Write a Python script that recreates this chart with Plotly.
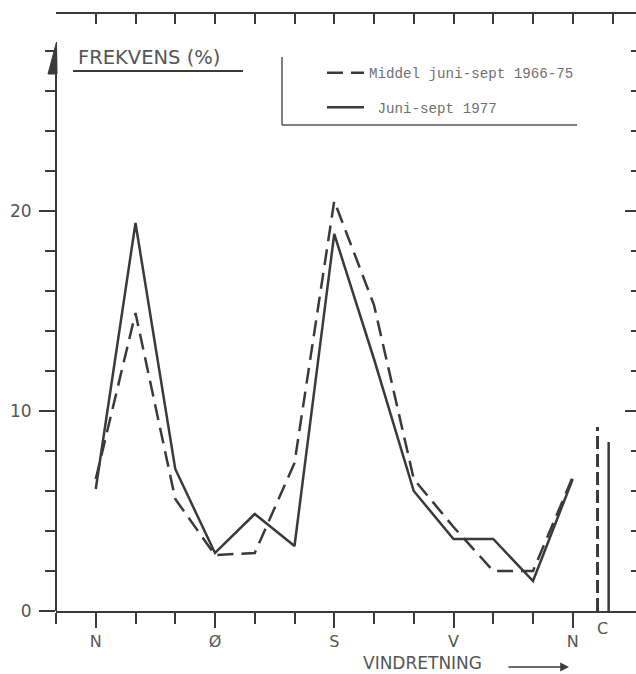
import plotly.graph_objects as go

# ---------------- data ----------------
DIRECTIONS = [0, 30, 60, 90, 120, 150, 180, 210, 240, 270, 300, 330, 360]
MEAN_1966_75 = [6.6, 14.9, 5.6, 2.8, 2.9, 7.4, 20.5, 15.3, 6.6, 4.2, 2.0, 2.0, 6.7]
JUNE_SEPT_1977 = [6.1, 19.4, 7.1, 2.9, 4.85, 3.25, 18.85, 12.6, 6.0, 3.6, 3.6, 1.5, 6.6]
CALM_LABEL = "C"
CALM_MEAN = 9.2
CALM_1977 = 8.45
MAJOR_TICKS = [0, 90, 180, 270, 360]
MAJOR_LABELS = ["N", "Ø", "S", "V", "N"]
Y_MAJOR = [0, 10, 20]
SERIES_NAMES = ["Middel juni-sept 1966-75", "\u00a0Juni-sept 1977"]

# ---------------- layout constants ----------------
W, H = 636, 674
L, R, T, B = 56, 0, 14, 63
PW, PH = W - L - R, H - T - B
X_RANGE = [-30, -30 + PW / 1.325]
Y_RANGE = [0, PH / 20.0]
CALM_X = 382.5
INK = "#3a3a3a"
TXT = "#555555"


def xp(px):
    return (px - L) / PW


def yp(py):
    return (H - B - py) / PH


fig = go.Figure()

fig.add_trace(go.Scatter(
    x=DIRECTIONS, y=MEAN_1966_75, mode="lines", name=SERIES_NAMES[0],
    legendgroup="a", line=dict(color=INK, width=2.5, dash="16px,8px"),
    hoverinfo="skip"))
fig.add_trace(go.Scatter(
    x=DIRECTIONS, y=JUNE_SEPT_1977, mode="lines", name=SERIES_NAMES[1],
    legendgroup="b", line=dict(color=INK, width=2.5), hoverinfo="skip"))

# calm bars
fig.add_trace(go.Scatter(
    x=[CALM_X - 3.8, CALM_X - 3.8], y=[0, CALM_MEAN], mode="lines",
    showlegend=False, line=dict(color=INK, width=3, dash="13px,5px"),
    hoverinfo="skip"))
fig.add_trace(go.Scatter(
    x=[CALM_X + 4.6, CALM_X + 4.6], y=[0, CALM_1977], mode="lines",
    showlegend=False, line=dict(color=INK, width=2.5), hoverinfo="skip"))

# helper trace for the top/right axes
fig.add_trace(go.Scatter(x=[None], y=[None], xaxis="x2", yaxis="y2",
                         showlegend=False, hoverinfo="skip"))

tick_minor_x = list(range(-30, 361, 30))

fig.update_layout(
    width=W, height=H, autosize=False,
    margin=dict(l=L, r=R, t=T, b=B, pad=0),
    paper_bgcolor="white", plot_bgcolor="white",
    font=dict(family="DejaVu Sans", color=TXT, size=16),
    showlegend=True,
    legend=dict(
        x=xp(322), y=yp(57), xanchor="left", yanchor="top",
        font=dict(family="Liberation Mono", size=14.2, color="#707070"),
        bgcolor="rgba(0,0,0,0)", borderwidth=0, tracegroupgap=13,
        itemwidth=37),
    xaxis=dict(
        range=X_RANGE, showgrid=False, zeroline=False,
        showline=True, linecolor=INK, linewidth=2,
        ticks="outside", tickvals=MAJOR_TICKS, ticktext=MAJOR_LABELS,
        ticklen=15, tickwidth=2, tickcolor=INK,
        tickfont=dict(size=16, color=TXT),
        minor=dict(tickvals=tick_minor_x, ticks="outside", ticklen=11,
                   tickwidth=2, tickcolor=INK, showgrid=False)),
    yaxis=dict(
        range=Y_RANGE, showgrid=False, zeroline=False, showline=False,
        ticks="outside", tickvals=Y_MAJOR, ticklen=16, tickwidth=2,
        tickcolor=INK, tickfont=dict(size=17, color=TXT),
        ticklabelstandoff=4,
        minor=dict(tickvals=list(range(0, 29, 2)), ticks="outside",
                   ticklen=10, tickwidth=2, tickcolor=INK, showgrid=False)),
    xaxis2=dict(
        range=X_RANGE, overlaying="x", side="top", anchor="y2",
        showgrid=False, zeroline=False, showline=True, linecolor=INK,
        linewidth=2, ticks="inside", tickvals=list(range(-30, 408, 30)),
        ticklen=10, tickwidth=2, tickcolor=INK, showticklabels=False),
    yaxis2=dict(
        range=Y_RANGE, overlaying="y", side="right", anchor="x2",
        showgrid=False, zeroline=False, showline=False,
        ticks="inside", tickvals=Y_MAJOR, ticklen=11, tickwidth=2,
        tickcolor=INK, showticklabels=False,
        minor=dict(tickvals=list(range(0, 29, 2)), ticks="inside",
                   ticklen=5, tickwidth=2, tickcolor=INK, showgrid=False)),
)

shapes = [
    # left axis line (stops below the top frame)
    dict(type="line", xref="paper", yref="paper", x0=0, x1=0,
         y0=0, y1=yp(50), line=dict(color=INK, width=2)),
    # arrow head on the left axis
    dict(type="path", xref="paper", yref="paper",
         path=f"M {xp(56.5)} {yp(42)} L {xp(48)} {yp(74)} L {xp(57)} {yp(74)} Z",
         fillcolor=INK, line=dict(color=INK, width=1)),
    # underline of the y title
    dict(type="line", xref="paper", yref="paper", x0=xp(73), x1=xp(243),
         y0=yp(71), y1=yp(71), line=dict(color=INK, width=2)),
    # legend frame (left + bottom)
    dict(type="line", xref="paper", yref="paper", x0=xp(282), x1=xp(282),
         y0=yp(57), y1=yp(125), line=dict(color="#555", width=1.5)),
    dict(type="line", xref="paper", yref="paper", x0=xp(282), x1=xp(577),
         y0=yp(125), y1=yp(125), line=dict(color="#555", width=1.5)),
]
fig.update_layout(shapes=shapes)

annotations = [
    dict(text="FREKVENS (%)", xref="paper", yref="paper", x=xp(76), y=yp(57),
         xanchor="left", yanchor="middle", showarrow=False,
         font=dict(family="DejaVu Sans", size=19.5, color=TXT)),
    dict(text=CALM_LABEL, xref="x", yref="paper", x=CALM_X, y=yp(628),
         xanchor="center", yanchor="middle", showarrow=False,
         font=dict(size=16, color=TXT)),
    dict(text="VINDRETNING", xref="paper", yref="paper", x=xp(422), y=yp(663),
         xanchor="center", yanchor="middle", showarrow=False,
         font=dict(family="DejaVu Sans", size=17, color=TXT)),
    dict(text="", xref="paper", yref="paper", x=xp(569), y=yp(667),
         ax=-62, ay=0, showarrow=True, arrowhead=2, arrowsize=1.1,
         arrowwidth=1.6, arrowcolor=INK),
]
fig.update_layout(annotations=annotations)

fig.write_html("out.html")
